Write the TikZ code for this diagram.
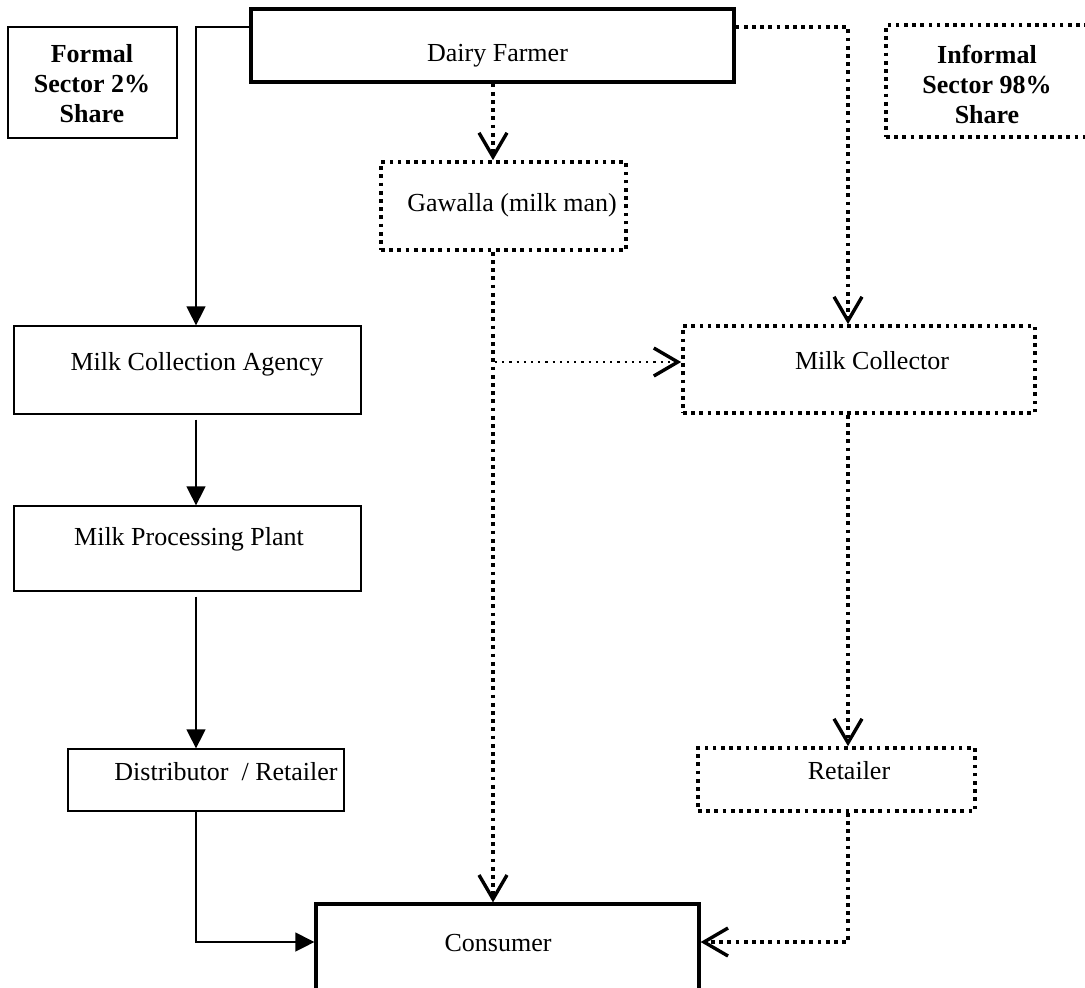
\documentclass[tikz,border=0pt]{standalone}
\usepackage{fontspec}
\setmainfont{Liberation Serif}
\usetikzlibrary{arrows.meta,fit,calc}
\begin{document}
\begin{tikzpicture}[x=0.5pt,y=-0.5pt,
  thinbox/.style={draw, line width=0.65pt, inner sep=0pt},
  thickbox/.style={draw, line width=1.65pt, inner sep=0pt},
  dotbox/.style={draw, line width=1.85pt, dash pattern=on 1.85pt off 2.25pt, inner sep=0pt},
  lbl/.style={font=\fontsize{13}{15}\selectfont, inner sep=0pt, anchor=base},
  blbl/.style={font=\fontsize{13}{15}\selectfont\bfseries, inner sep=0pt, align=center},
  formal/.style={line width=0.7pt, -{Triangle[length=9.5pt,width=9.5pt]}},
  vtip/.style={-{Straight Barb[length=12pt,width=14pt,line width=1.7pt]}},
  informal/.style={vtip, line width=1.85pt, dash pattern=on 1.85pt off 2.25pt},
  fine/.style={vtip, line width=1.1pt, dash pattern=on 1.1pt off 2.5pt}
]
\fill[white] (0,0) rectangle (1085,987);
\useasboundingbox (0,0) rectangle (1085,987);

% boxes
\node[thinbox, fit={(8,27) (177,138)}] (formalbox) {};
\node[blbl] (formaltxt) at (92,83.5) {Formal\\Sector 2\%\\Share};
\node[dotbox, fit={(886,25) (1095,137)}] (informalbox) {};
\node[blbl] (informaltxt) at (987,84) {Informal\\Sector 98\%\\Share};

\node[thickbox, fit={(251,9) (734,82)}] (farmer) {};
\node[lbl] (farmertxt) at (497.5,61) {Dairy Farmer};

\node[dotbox, fit={(381,162) (626,250)}] (gawalla) {};
\node[lbl] (gawallatxt) at (512,211) {Gawalla (milk man)};

\node[thinbox, fit={(14,326) (361,414)}] (mca) {};
\node[lbl] (mcatxt) at (197,370) {Milk Collection Agency};

\node[dotbox, fit={(683,326) (1035,413)}] (collector) {};
\node[lbl] (collectortxt) at (872,369) {Milk Collector};

\node[thinbox, fit={(14,506) (361,591)}] (mpp) {};
\node[lbl] (mpptxt) at (189,545) {Milk Processing Plant};

\node[thinbox, fit={(68,749) (344,811)}] (dist) {};
\node[lbl] (disttxt) at (226,780) {Distributor~~/ Retailer};

\node[dotbox, fit={(698,748) (975,811)}] (retailer) {};
\node[lbl] (retailertxt) at (849,779) {Retailer};

\node[thickbox, fit={(316,904) (699,998)}] (consumer) {};
\node[lbl] (consumertxt) at (498,951) {Consumer};

% helper coordinates
\coordinate (c1) at (196,27);
\coordinate (cx) at (848,27);
\coordinate (gx) at (493,0);
\coordinate (hy) at (495,362);
\coordinate (ly) at (196,942);
\coordinate (ry) at (848,942);

% formal connectors
\draw[formal] (farmer.west|-c1) -- (c1) -- (c1|-mca.north);
\draw[formal, shorten <=2.5pt] (c1|-mca.south) -- (c1|-mpp.north);
\draw[formal, shorten <=2.5pt] (c1|-mpp.south) -- (c1|-dist.north);
\draw[formal] (c1|-dist.south) -- (ly) -- (consumer.west|-ly);

% informal connectors
\draw[informal] (farmer.east|-cx) -- (cx) -- (cx|-collector.north);
\draw[informal] (gx|-farmer.south) -- (gx|-gawalla.north);
\draw[informal] (gx|-gawalla.south) -- (gx|-consumer.north);
\draw[fine] (hy) -- (collector.west|-hy);
\draw[informal] (cx|-collector.south) -- (cx|-retailer.north);
\draw[informal] (cx|-retailer.south) -- (ry) -- (consumer.east|-ry);
\end{tikzpicture}
\end{document}
